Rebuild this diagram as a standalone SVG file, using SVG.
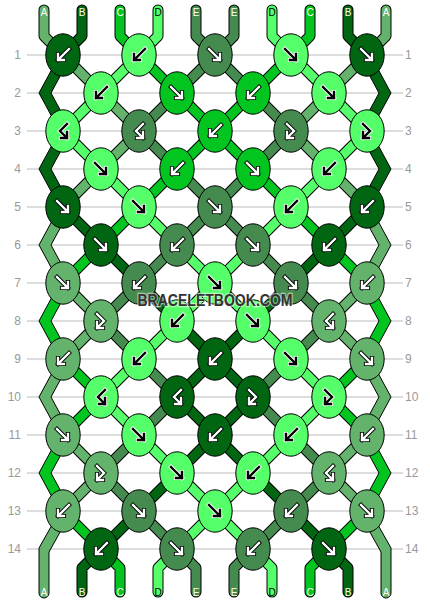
<svg xmlns="http://www.w3.org/2000/svg" xmlns:xlink="http://www.w3.org/1999/xlink" width="430" height="604" viewBox="0 0 430 604">
<style>
.ln{stroke:#bbb;stroke-width:1}
.num{font-family:"Liberation Sans",Arial,sans-serif;font-size:12px;fill:#999}
.o{fill:none;stroke:#000;stroke-width:11;stroke-linecap:round;stroke-linejoin:round}
.s{fill:none;stroke-width:9;stroke-linecap:round;stroke-linejoin:round}
.sA{stroke:#63b36c}.sB{stroke:#006611}.sC{stroke:#02c51f}.sD{stroke:#55ff69}.sE{stroke:#458b4f}
.fA{fill:#63b36c}.fB{fill:#006611}.fC{fill:#02c51f}.fD{fill:#55ff69}.fE{fill:#458b4f}
.edge{stroke:#000;stroke-width:1;stroke-linejoin:miter}
.nd{stroke:#000;stroke-width:1}
.aw{fill:none;stroke:#fff;stroke-width:2.4;stroke-linecap:square}
.ak{fill:none;stroke:#000;stroke-width:2.4;stroke-linecap:square}
.aok{fill:none;stroke:#000;stroke-width:4.2;stroke-linecap:square}
.aow{fill:none;stroke:#fff;stroke-width:4.2;stroke-linecap:square}
.lbl{font-family:"Liberation Sans",Arial,sans-serif;font-size:10px;fill:#fff;text-anchor:middle}
.lk{fill:#000}
.wm{font-family:"Liberation Sans",Arial,sans-serif;font-size:16px;font-weight:bold;fill:#333;text-anchor:middle;stroke:#fff;stroke-opacity:0.55;stroke-width:2.5;paint-order:stroke}
</style>
<defs>
<path id="pSW" d="M6 -6L-5 5M-5 -1V5H1"/>
<path id="pSE" d="M-6 -6L5 5M5 -1V5H-1"/>
<path id="pBF" d="M4 -7L-3 0L4 7M4 1V7H-2"/>
<path id="pFB" d="M-4 -7L3 0L-4 7M-4 1V7H2"/>
<g id="SWw"><use href="#pSW" class="aok"/><use href="#pSW" class="aw"/></g>
<g id="SWk"><use href="#pSW" class="aow"/><use href="#pSW" class="ak"/></g>
<g id="SEw"><use href="#pSE" class="aok"/><use href="#pSE" class="aw"/></g>
<g id="SEk"><use href="#pSE" class="aow"/><use href="#pSE" class="ak"/></g>
<g id="BFw"><use href="#pBF" class="aok"/><use href="#pBF" class="aw"/></g>
<g id="BFk"><use href="#pBF" class="aow"/><use href="#pBF" class="ak"/></g>
<g id="FBw"><use href="#pFB" class="aok"/><use href="#pFB" class="aw"/></g>
<g id="FBk"><use href="#pFB" class="aow"/><use href="#pFB" class="ak"/></g>
<path id="dA" d="M44 10L44 36L63 55M386 10L386 36L367 55M63 55L101 93M367 55L329 93M101 93L139 131M329 93L291 131M139 131L101 169M291 131L329 169M101 169L63 207M329 169L367 207M63 283L101 321M367 283L329 321M101 321L63 359M329 321L367 359M63 435L101 473M367 435L329 473M101 473L63 511M329 473L367 511"/>
<path id="dB" d="M82 10L82 36L63 55M348 10L348 36L367 55M63 207L101 245M367 207L329 245M101 245L139 283M329 245L291 283M139 283L177 321M291 283L253 321M177 321L215 359M253 321L215 359M215 359L177 397M215 359L253 397M177 397L215 435M253 397L215 435M215 435L177 473M215 435L253 473M177 473L139 511M253 473L291 511M139 511L101 549M291 511L329 549M101 549L82 568L82 592M329 549L348 568L348 592"/>
<path id="dC" d="M120 10L120 36L139 55M310 10L310 36L291 55M139 55L177 93M291 55L253 93M177 93L215 131M253 93L215 131M215 131L177 169M215 131L253 169M177 169L139 207M253 169L291 207M139 207L101 245M291 207L329 245M101 245L63 283M329 245L367 283M63 359L101 397M367 359L329 397M101 397L63 435M329 397L367 435M63 511L101 549M367 511L329 549M101 549L120 568L120 592M329 549L310 568L310 592"/>
<path id="dD" d="M158 10L158 36L139 55M272 10L272 36L291 55M139 55L101 93M291 55L329 93M101 93L63 131M329 93L367 131M63 131L101 169M367 131L329 169M101 169L139 207M329 169L291 207M139 207L177 245M291 207L253 245M177 245L215 283M253 245L215 283M215 283L177 321M215 283L253 321M177 321L139 359M253 321L291 359M139 359L101 397M291 359L329 397M101 397L139 435M329 397L291 435M139 435L177 473M291 435L253 473M177 473L215 511M253 473L215 511M215 511L177 549M215 511L253 549M177 549L158 568L158 592M253 549L272 568L272 592"/>
<path id="dE" d="M196 10L196 36L215 55M234 10L234 36L215 55M215 55L177 93M215 55L253 93M177 93L139 131M253 93L291 131M139 131L177 169M291 131L253 169M177 169L215 207M253 169L215 207M215 207L177 245M215 207L253 245M177 245L139 283M253 245L291 283M139 283L101 321M291 283L329 321M101 321L139 359M329 321L291 359M139 359L177 397M291 359L253 397M177 397L139 435M253 397L291 435M139 435L101 473M291 435L329 473M101 473L139 511M329 473L291 511M139 511L177 549M291 511L253 549M177 549L196 568L196 592M253 549L234 568L234 592"/>
</defs>
<rect width="430" height="604" fill="#fff"/>
<g id="rows">
<path class="ln" d="M27 55H403M27 93H403M27 131H403M27 169H403M27 207H403M27 245H403M27 283H403M27 321H403M27 359H403M27 397H403M27 435H403M27 473H403M27 511H403M27 549H403"/>
<g class="num" text-anchor="end">
<text x="21" y="59">1</text><text x="21" y="97">2</text><text x="21" y="135">3</text><text x="21" y="173">4</text><text x="21" y="211">5</text><text x="21" y="249">6</text><text x="21" y="287">7</text><text x="21" y="325">8</text><text x="21" y="363">9</text><text x="21" y="401">10</text><text x="21" y="439">11</text><text x="21" y="477">12</text><text x="21" y="515">13</text><text x="21" y="553">14</text>
</g>
<g class="num" text-anchor="start">
<text x="405" y="59">1</text><text x="405" y="97">2</text><text x="405" y="135">3</text><text x="405" y="173">4</text><text x="405" y="211">5</text><text x="405" y="249">6</text><text x="405" y="287">7</text><text x="405" y="325">8</text><text x="405" y="363">9</text><text x="405" y="401">10</text><text x="405" y="439">11</text><text x="405" y="477">12</text><text x="405" y="515">13</text><text x="405" y="553">14</text>
</g>
</g>
<g id="connectors">
<use href="#dA" class="o"/><use href="#dB" class="o"/><use href="#dC" class="o"/><use href="#dD" class="o"/><use href="#dE" class="o"/>
<use href="#dA" class="s sA"/><use href="#dB" class="s sB"/><use href="#dC" class="s sC"/><use href="#dD" class="s sD"/><use href="#dE" class="s sE"/>
<polygon class="edge fB" points="52,69 39,93 52,117 64,117 51,93 64,69"/>
<polygon class="edge fB" points="52,145 39,169 52,193 64,193 51,169 64,145"/>
<polygon class="edge fA" points="52,221 39,245 52,269 64,269 51,245 64,221"/>
<polygon class="edge fC" points="52,297 39,321 52,345 64,345 51,321 64,297"/>
<polygon class="edge fA" points="52,373 39,397 52,421 64,421 51,397 64,373"/>
<polygon class="edge fC" points="52,449 39,473 52,497 64,497 51,473 64,449"/>
<path class="edge fA" d="M52 525L39 548L39 593A5 5 0 0 0 49 593L49 552L64 525Z"/>
<polygon class="edge fB" points="378,69 391,93 378,117 366,117 379,93 366,69"/>
<polygon class="edge fB" points="378,145 391,169 378,193 366,193 379,169 366,145"/>
<polygon class="edge fA" points="378,221 391,245 378,269 366,269 379,245 366,221"/>
<polygon class="edge fC" points="378,297 391,321 378,345 366,345 379,321 366,297"/>
<polygon class="edge fA" points="378,373 391,397 378,421 366,421 379,397 366,373"/>
<polygon class="edge fC" points="378,449 391,473 378,497 366,497 379,473 366,449"/>
<path class="edge fA" d="M378 525L391 548L391 593A5 5 0 0 1 381 593L381 552L366 525Z"/>
</g>
<g id="labels">
<text class="lbl" x="44" y="16">A</text><text class="lbl" x="82" y="16">B</text><text class="lbl" x="120" y="16">C</text><text class="lbl lk" x="158" y="16">D</text><text class="lbl" x="196" y="16">E</text><text class="lbl" x="234" y="16">E</text><text class="lbl lk" x="272" y="16">D</text><text class="lbl" x="310" y="16">C</text><text class="lbl" x="348" y="16">B</text><text class="lbl" x="386" y="16">A</text>
<text class="lbl" x="44" y="596">A</text><text class="lbl" x="82" y="596">B</text><text class="lbl" x="120" y="596">C</text><text class="lbl lk" x="158" y="596">D</text><text class="lbl" x="196" y="596">E</text><text class="lbl" x="234" y="596">E</text><text class="lbl lk" x="272" y="596">D</text><text class="lbl" x="310" y="596">C</text><text class="lbl" x="348" y="596">B</text><text class="lbl" x="386" y="596">A</text>
</g>
<g id="nodes">
<g id="n1_1" transform="translate(63 55)"><ellipse class="nd fB" rx="17.2" ry="21.2"/><use href="#SWw"/></g>
<g id="n1_2" transform="translate(139 55)"><ellipse class="nd fD" rx="17.2" ry="21.2"/><use href="#SWk"/></g>
<g id="n1_3" transform="translate(215 55)"><ellipse class="nd fE" rx="17.2" ry="21.2"/><use href="#SEw"/></g>
<g id="n1_4" transform="translate(291 55)"><ellipse class="nd fD" rx="17.2" ry="21.2"/><use href="#SEk"/></g>
<g id="n1_5" transform="translate(367 55)"><ellipse class="nd fB" rx="17.2" ry="21.2"/><use href="#SEw"/></g>
<g id="n2_1" transform="translate(101 93)"><ellipse class="nd fD" rx="17.2" ry="21.2"/><use href="#SWk"/></g>
<g id="n2_2" transform="translate(177 93)"><ellipse class="nd fC" rx="17.2" ry="21.2"/><use href="#SEw"/></g>
<g id="n2_3" transform="translate(253 93)"><ellipse class="nd fC" rx="17.2" ry="21.2"/><use href="#SWw"/></g>
<g id="n2_4" transform="translate(329 93)"><ellipse class="nd fD" rx="17.2" ry="21.2"/><use href="#SEk"/></g>
<g id="n3_1" transform="translate(63 131)"><ellipse class="nd fD" rx="17.2" ry="21.2"/><use href="#BFk"/></g>
<g id="n3_2" transform="translate(139 131)"><ellipse class="nd fE" rx="17.2" ry="21.2"/><use href="#BFw"/></g>
<g id="n3_3" transform="translate(215 131)"><ellipse class="nd fC" rx="17.2" ry="21.2"/><use href="#SWw"/></g>
<g id="n3_4" transform="translate(291 131)"><ellipse class="nd fE" rx="17.2" ry="21.2"/><use href="#FBw"/></g>
<g id="n3_5" transform="translate(367 131)"><ellipse class="nd fD" rx="17.2" ry="21.2"/><use href="#FBk"/></g>
<g id="n4_1" transform="translate(101 169)"><ellipse class="nd fD" rx="17.2" ry="21.2"/><use href="#SEk"/></g>
<g id="n4_2" transform="translate(177 169)"><ellipse class="nd fC" rx="17.2" ry="21.2"/><use href="#SWw"/></g>
<g id="n4_3" transform="translate(253 169)"><ellipse class="nd fC" rx="17.2" ry="21.2"/><use href="#SEw"/></g>
<g id="n4_4" transform="translate(329 169)"><ellipse class="nd fD" rx="17.2" ry="21.2"/><use href="#SWk"/></g>
<g id="n5_1" transform="translate(63 207)"><ellipse class="nd fB" rx="17.2" ry="21.2"/><use href="#SEw"/></g>
<g id="n5_2" transform="translate(139 207)"><ellipse class="nd fD" rx="17.2" ry="21.2"/><use href="#SEk"/></g>
<g id="n5_3" transform="translate(215 207)"><ellipse class="nd fE" rx="17.2" ry="21.2"/><use href="#SEw"/></g>
<g id="n5_4" transform="translate(291 207)"><ellipse class="nd fD" rx="17.2" ry="21.2"/><use href="#SWk"/></g>
<g id="n5_5" transform="translate(367 207)"><ellipse class="nd fB" rx="17.2" ry="21.2"/><use href="#SWw"/></g>
<g id="n6_1" transform="translate(101 245)"><ellipse class="nd fB" rx="17.2" ry="21.2"/><use href="#SEw"/></g>
<g id="n6_2" transform="translate(177 245)"><ellipse class="nd fE" rx="17.2" ry="21.2"/><use href="#SWw"/></g>
<g id="n6_3" transform="translate(253 245)"><ellipse class="nd fE" rx="17.2" ry="21.2"/><use href="#SEw"/></g>
<g id="n6_4" transform="translate(329 245)"><ellipse class="nd fB" rx="17.2" ry="21.2"/><use href="#SWw"/></g>
<g id="n7_1" transform="translate(63 283)"><ellipse class="nd fA" rx="17.2" ry="21.2"/><use href="#SEw"/></g>
<g id="n7_2" transform="translate(139 283)"><ellipse class="nd fE" rx="17.2" ry="21.2"/><use href="#SWw"/></g>
<g id="n7_3" transform="translate(215 283)"><ellipse class="nd fD" rx="17.2" ry="21.2"/><use href="#SEk"/></g>
<g id="n7_4" transform="translate(291 283)"><ellipse class="nd fE" rx="17.2" ry="21.2"/><use href="#SEw"/></g>
<g id="n7_5" transform="translate(367 283)"><ellipse class="nd fA" rx="17.2" ry="21.2"/><use href="#SWw"/></g>
<g id="n8_1" transform="translate(101 321)"><ellipse class="nd fA" rx="17.2" ry="21.2"/><use href="#FBw"/></g>
<g id="n8_2" transform="translate(177 321)"><ellipse class="nd fD" rx="17.2" ry="21.2"/><use href="#SWk"/></g>
<g id="n8_3" transform="translate(253 321)"><ellipse class="nd fD" rx="17.2" ry="21.2"/><use href="#SEk"/></g>
<g id="n8_4" transform="translate(329 321)"><ellipse class="nd fA" rx="17.2" ry="21.2"/><use href="#BFw"/></g>
<g id="n9_1" transform="translate(63 359)"><ellipse class="nd fA" rx="17.2" ry="21.2"/><use href="#SWw"/></g>
<g id="n9_2" transform="translate(139 359)"><ellipse class="nd fD" rx="17.2" ry="21.2"/><use href="#SWk"/></g>
<g id="n9_3" transform="translate(215 359)"><ellipse class="nd fB" rx="17.2" ry="21.2"/><use href="#SWw"/></g>
<g id="n9_4" transform="translate(291 359)"><ellipse class="nd fD" rx="17.2" ry="21.2"/><use href="#SEk"/></g>
<g id="n9_5" transform="translate(367 359)"><ellipse class="nd fA" rx="17.2" ry="21.2"/><use href="#SEw"/></g>
<g id="n10_1" transform="translate(101 397)"><ellipse class="nd fD" rx="17.2" ry="21.2"/><use href="#BFk"/></g>
<g id="n10_2" transform="translate(177 397)"><ellipse class="nd fB" rx="17.2" ry="21.2"/><use href="#BFw"/></g>
<g id="n10_3" transform="translate(253 397)"><ellipse class="nd fB" rx="17.2" ry="21.2"/><use href="#FBw"/></g>
<g id="n10_4" transform="translate(329 397)"><ellipse class="nd fD" rx="17.2" ry="21.2"/><use href="#FBk"/></g>
<g id="n11_1" transform="translate(63 435)"><ellipse class="nd fA" rx="17.2" ry="21.2"/><use href="#SEw"/></g>
<g id="n11_2" transform="translate(139 435)"><ellipse class="nd fD" rx="17.2" ry="21.2"/><use href="#SEk"/></g>
<g id="n11_3" transform="translate(215 435)"><ellipse class="nd fB" rx="17.2" ry="21.2"/><use href="#SWw"/></g>
<g id="n11_4" transform="translate(291 435)"><ellipse class="nd fD" rx="17.2" ry="21.2"/><use href="#SWk"/></g>
<g id="n11_5" transform="translate(367 435)"><ellipse class="nd fA" rx="17.2" ry="21.2"/><use href="#SWw"/></g>
<g id="n12_1" transform="translate(101 473)"><ellipse class="nd fA" rx="17.2" ry="21.2"/><use href="#FBw"/></g>
<g id="n12_2" transform="translate(177 473)"><ellipse class="nd fD" rx="17.2" ry="21.2"/><use href="#SEk"/></g>
<g id="n12_3" transform="translate(253 473)"><ellipse class="nd fD" rx="17.2" ry="21.2"/><use href="#SWk"/></g>
<g id="n12_4" transform="translate(329 473)"><ellipse class="nd fA" rx="17.2" ry="21.2"/><use href="#BFw"/></g>
<g id="n13_1" transform="translate(63 511)"><ellipse class="nd fA" rx="17.2" ry="21.2"/><use href="#SWw"/></g>
<g id="n13_2" transform="translate(139 511)"><ellipse class="nd fE" rx="17.2" ry="21.2"/><use href="#SEw"/></g>
<g id="n13_3" transform="translate(215 511)"><ellipse class="nd fD" rx="17.2" ry="21.2"/><use href="#SEk"/></g>
<g id="n13_4" transform="translate(291 511)"><ellipse class="nd fE" rx="17.2" ry="21.2"/><use href="#SWw"/></g>
<g id="n13_5" transform="translate(367 511)"><ellipse class="nd fA" rx="17.2" ry="21.2"/><use href="#SEw"/></g>
<g id="n14_1" transform="translate(101 549)"><ellipse class="nd fB" rx="17.2" ry="21.2"/><use href="#SWw"/></g>
<g id="n14_2" transform="translate(177 549)"><ellipse class="nd fE" rx="17.2" ry="21.2"/><use href="#SEw"/></g>
<g id="n14_3" transform="translate(253 549)"><ellipse class="nd fE" rx="17.2" ry="21.2"/><use href="#SWw"/></g>
<g id="n14_4" transform="translate(329 549)"><ellipse class="nd fB" rx="17.2" ry="21.2"/><use href="#SEw"/></g>
</g>
<text class="wm" x="215" y="306" textLength="155" lengthAdjust="spacingAndGlyphs">BRACELETBOOK.COM</text>
</svg>
